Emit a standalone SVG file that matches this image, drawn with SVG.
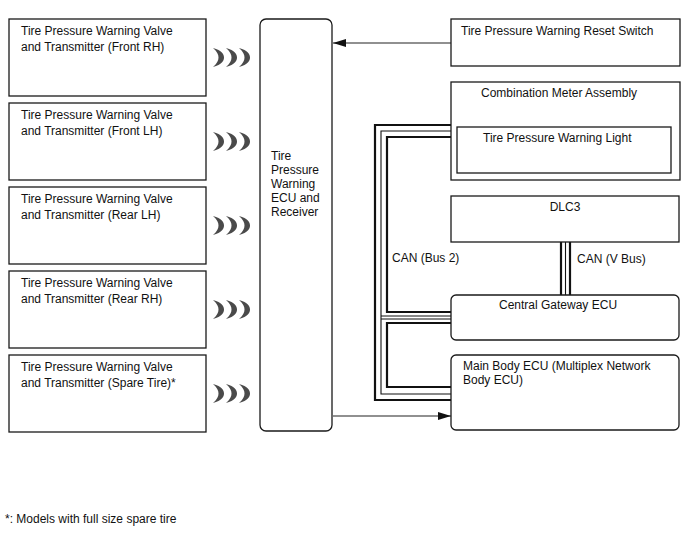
<svg xmlns="http://www.w3.org/2000/svg" width="688" height="560" viewBox="0 0 688 560">
<defs>
<style>
text{font-family:"Liberation Sans",Arial,sans-serif;font-size:12px;fill:#111}
.box{fill:#fff;stroke:#1a1a1a;stroke-width:1.3}
.thick{fill:none;stroke:#111;stroke-width:2.2}
.thin{fill:none;stroke:#111;stroke-width:1.1}
.ln{fill:none;stroke:#222;stroke-width:1.1}
.wave{fill:#4a4a4a}
</style>
<marker id="ah" markerWidth="14" markerHeight="8" refX="13" refY="4" orient="auto" markerUnits="userSpaceOnUse">
<path d="M0,0 L13,4 L0,8 Z" fill="#111"/>
</marker>
<path id="cr" d="M0,-9.5 C9,-7 11,-3 11,0 C11,3 9,7 0,9.5 C4,6 5.5,3 5.5,0 C5.5,-3 4,-6 0,-9.5 Z"/>
<g id="waves"><use href="#cr" x="213" class="wave"/><use href="#cr" x="226" class="wave"/><use href="#cr" x="239" class="wave"/></g>
</defs>
<rect width="688" height="560" fill="#fff"/>

<g id="connectors">
<line class="ln" x1="451" y1="43" x2="333" y2="43" marker-end="url(#ah)"/>
<line class="ln" x1="333" y1="416" x2="451" y2="416" marker-end="url(#ah)"/>
<polyline class="thick" points="451,125 375,125 375,400 451,400"/>
<polyline class="thin" points="451,131 381,131 381,394 451,394"/>
<polyline class="thick" points="451,137 387,137 387,312 451,312"/>
<line class="thin" x1="381" y1="316" x2="451" y2="316"/>
<line class="thin" x1="381" y1="319" x2="451" y2="319"/>
<polyline class="thick" points="451,323 387,323 387,387 451,387"/>
<line class="thick" x1="561" y1="242" x2="561" y2="295"/>
<line class="thin" x1="565.5" y1="242" x2="565.5" y2="295"/>
<line class="thick" x1="570" y1="242" x2="570" y2="295"/>
<text x="392" y="262">CAN (Bus 2)</text>
<text x="577" y="263">CAN (V Bus)</text>
<use href="#waves" y="57.5"/>
<use href="#waves" y="141.5"/>
<use href="#waves" y="225.5"/>
<use href="#waves" y="309.5"/>
<use href="#waves" y="393.5"/>
</g>

<g id="tx_front_rh">
<rect class="box" x="9" y="19" width="197" height="77"/>
<text x="21" y="35">Tire Pressure Warning Valve</text>
<text x="21" y="51">and Transmitter (Front RH)</text>
</g>
<g id="tx_front_lh">
<rect class="box" x="9" y="103" width="197" height="77"/>
<text x="21" y="119">Tire Pressure Warning Valve</text>
<text x="21" y="135">and Transmitter (Front LH)</text>
</g>
<g id="tx_rear_lh">
<rect class="box" x="9" y="187" width="197" height="77"/>
<text x="21" y="203">Tire Pressure Warning Valve</text>
<text x="21" y="219">and Transmitter (Rear LH)</text>
</g>
<g id="tx_rear_rh">
<rect class="box" x="9" y="271" width="197" height="77"/>
<text x="21" y="287">Tire Pressure Warning Valve</text>
<text x="21" y="303">and Transmitter (Rear RH)</text>
</g>
<g id="tx_spare">
<rect class="box" x="9" y="355" width="197" height="77"/>
<text x="21" y="371">Tire Pressure Warning Valve</text>
<text x="21" y="387">and Transmitter (Spare Tire)*</text>
</g>

<g id="ecu">
<rect class="box" x="260" y="19" width="72" height="412" rx="6"/>
<text x="271" y="160">Tire</text>
<text x="271" y="174">Pressure</text>
<text x="271" y="188">Warning</text>
<text x="271" y="202">ECU and</text>
<text x="271" y="216">Receiver</text>
</g>

<g id="reset_switch">
<rect class="box" x="451" y="19" width="229" height="47"/>
<text x="461" y="35">Tire Pressure Warning Reset Switch</text>
</g>

<g id="combo_meter">
<rect class="box" x="451" y="82" width="229" height="98"/>
<text x="481" y="97">Combination Meter Assembly</text>
<g id="warning_light">
<rect class="box" x="457" y="127" width="214" height="46"/>
<text x="483" y="142">Tire Pressure Warning Light</text>
</g>
</g>

<g id="dlc3">
<rect class="box" x="451" y="196" width="228" height="46"/>
<text x="565" y="211" text-anchor="middle">DLC3</text>
</g>

<g id="gateway">
<rect class="box" x="451" y="295" width="228" height="45" rx="5"/>
<text x="499" y="309">Central Gateway ECU</text>
</g>

<g id="main_body">
<rect class="box" x="451" y="355" width="228" height="75" rx="5"/>
<text x="463" y="370">Main Body ECU (Multiplex Network</text>
<text x="463" y="384">Body ECU)</text>
</g>

<text x="5" y="523">*: Models with full size spare tire</text>
</svg>
